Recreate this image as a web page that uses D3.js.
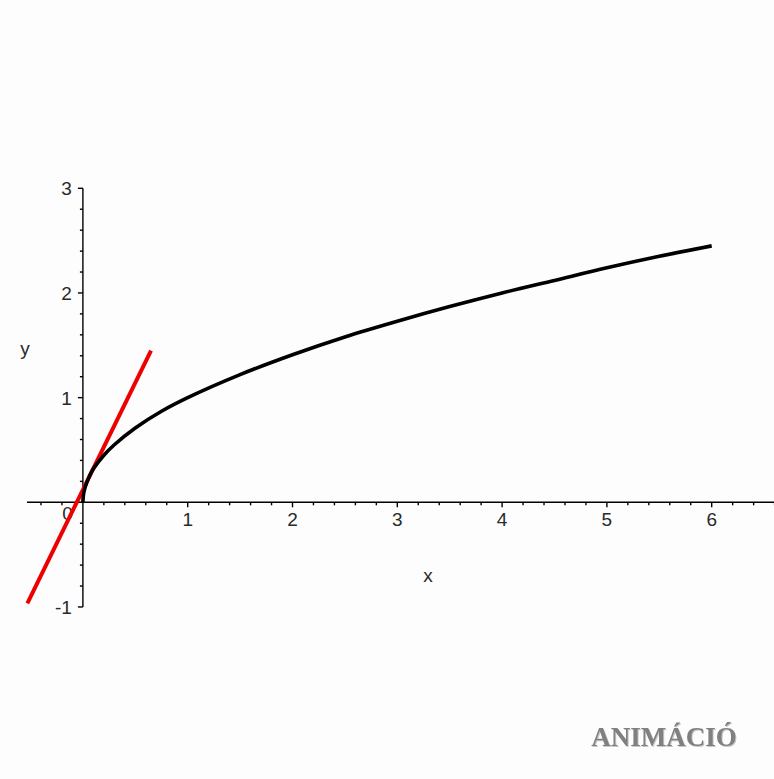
<!DOCTYPE html>
<html>
<head>
<meta charset="utf-8">
<script src="https://cdn.jsdelivr.net/npm/d3@7"></script>
<style>
  html, body { margin: 0; padding: 0; background: #fcfdfc; }
  svg { display: block; }
</style>
</head>
<body>
<script>
// y = sqrt(x) and a tangent line near the origin
const curveX = [0, 0.005, 0.02, 0.06, 0.1, 0.2, 0.3, 0.5, 0.75, 1, 1.5, 2, 2.5, 3, 3.5, 4, 4.5, 5, 5.5, 6];
const curveY = [0, 0.07, 0.14, 0.245, 0.32, 0.45, 0.55, 0.71, 0.87, 1, 1.22, 1.41, 1.58, 1.73, 1.87, 2, 2.12, 2.24, 2.35, 2.45];
const tangentX = [-0.53, 0.65];
const tangentY = [-0.965, 1.45];
const xTickLabels = [1, 2, 3, 4, 5, 6];
const yTickLabels = [-1, 1, 2, 3];
const originLabel = "0";
const xAxisTitle = "x";
const yAxisTitle = "y";
const watermark = "ANIMÁCIÓ";

const W = 774, H = 779;
const x = d3.scaleLinear().domain([0, 6]).range([82.9, 711.7]);
const y = d3.scaleLinear().domain([0, 3]).range([502.3, 188.3]);

const svg = d3.select("body").append("svg").attr("width", W).attr("height", H);
svg.append("rect").attr("width", W).attr("height", H).attr("fill", "#fcfdfc");

const xMin = x.invert(27), xMax = x.invert(W + 2);
const yMin = -1, yMax = 3;

const axes = svg.append("g").attr("stroke", "#000").attr("stroke-width", 1.4);
// axis lines
axes.append("line").attr("x1", x(xMin)).attr("x2", x(xMax)).attr("y1", y(0)).attr("y2", y(0));
axes.append("line").attr("x1", x(0)).attr("x2", x(0)).attr("y1", y(yMin)).attr("y2", y(yMax));

// tick marks every 0.2, longer on whole numbers
const eps = 1e-6;
const xTicks = d3.range(Math.ceil(xMin / 0.2) * 0.2, xMax + eps, 0.2).map(v => Math.round(v * 10) / 10);
axes.selectAll(".xt").data(xTicks.filter(v => Math.abs(v) > eps)).join("line")
  .attr("x1", d => x(d)).attr("x2", d => x(d))
  .attr("y1", y(0)).attr("y2", d => y(0) + (Math.abs(d - Math.round(d)) < eps ? 5 : 3));
const yTicks = d3.range(yMin, yMax + eps, 0.2).map(v => Math.round(v * 10) / 10);
axes.selectAll(".yt").data(yTicks.filter(v => Math.abs(v) > eps)).join("line")
  .attr("y1", d => y(d)).attr("y2", d => y(d))
  .attr("x1", x(0)).attr("x2", d => x(0) - (Math.abs(d - Math.round(d)) < eps ? 5 : 3));

const font = "'Liberation Sans Narrow', 'Arial Narrow', 'Liberation Sans', sans-serif";
const labels = svg.append("g").attr("font-family", font).attr("font-size", 19).attr("fill", "#2a2a2a");
labels.selectAll(".xl").data(xTickLabels).join("text")
  .attr("x", d => x(d)).attr("y", y(0) + 24).attr("text-anchor", "middle").text(d => d);
labels.selectAll(".yl").data(yTickLabels).join("text")
  .attr("x", x(0) - 11).attr("y", d => y(d) + 7).attr("text-anchor", "end").text(d => d);
labels.append("text").attr("x", x(0) - 10).attr("y", y(0) + 18).attr("text-anchor", "end").text(originLabel);
labels.append("text").attr("x", 428).attr("y", 582).attr("text-anchor", "middle").text(xAxisTitle);
labels.append("text").attr("x", 25).attr("y", 355).attr("text-anchor", "middle").text(yAxisTitle);

// tangent line
svg.append("path")
  .datum(tangentX.map((v, i) => [v, tangentY[i]]))
  .attr("d", d3.line().x(d => x(d[0])).y(d => y(d[1])))
  .attr("stroke", "#ee0000").attr("stroke-width", 4).attr("fill", "none");

// square-root curve
svg.append("path")
  .datum(curveX.map((v, i) => [v, curveY[i]]))
  .attr("d", d3.line().x(d => x(d[0])).y(d => y(d[1])).curve(d3.curveCatmullRom))
  .attr("stroke", "#000").attr("stroke-width", 3.6).attr("fill", "none")
  .attr("stroke-linejoin", "round");

// watermark
const defs = svg.append("defs");
defs.append("filter").attr("id", "soft").append("feGaussianBlur").attr("stdDeviation", 0.7);
const wm = svg.append("g").attr("font-family", "'Liberation Serif', 'Times New Roman', serif")
  .attr("font-size", 27).attr("font-weight", "bold").attr("filter", "url(#soft)");
wm.append("text").attr("x", 664).attr("y", 746).attr("text-anchor", "middle")
  .attr("fill", "#c8c8c8").attr("transform", "translate(1,1)").text(watermark);
wm.append("text").attr("x", 664).attr("y", 746).attr("text-anchor", "middle")
  .attr("fill", "#808080").text(watermark);
</script>
</body>
</html>
